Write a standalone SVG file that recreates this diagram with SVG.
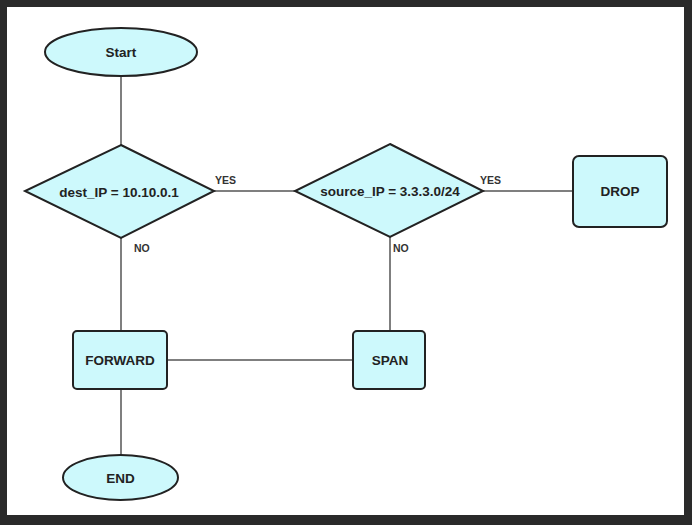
<svg xmlns="http://www.w3.org/2000/svg" width="692" height="525" viewBox="0 0 692 525">
<style>
.n{fill:#cdf9fc;stroke:#222;stroke-width:2}
.t{font-family:"Liberation Sans",Arial,sans-serif;font-weight:bold;font-size:13.5px;fill:#222;text-anchor:middle;dominant-baseline:central}
.l{font-family:"Liberation Sans",Arial,sans-serif;font-weight:bold;font-size:10.5px;fill:#333}
.c{stroke:#555;stroke-width:1.5;fill:none}
</style>
<rect x="0" y="0" width="692" height="525" fill="#2a2a2a"/>
<rect x="7" y="7" width="677" height="508" fill="#fff"/>
<g id="connectors">
<line class="c" x1="121" y1="76" x2="121" y2="145"/>
<line class="c" x1="214" y1="191" x2="295" y2="191"/>
<line class="c" x1="483" y1="191" x2="573" y2="191"/>
<line class="c" x1="121" y1="238" x2="121" y2="331"/>
<line class="c" x1="390" y1="237" x2="390" y2="331"/>
<line class="c" x1="167" y1="360" x2="353" y2="360"/>
<line class="c" x1="121" y1="389" x2="121" y2="455"/>
<text class="l" x="215" y="184">YES</text>
<text class="l" x="480" y="184">YES</text>
<text class="l" x="134" y="252">NO</text>
<text class="l" x="393" y="252">NO</text>
</g>
<g id="start"><ellipse class="n" cx="121" cy="52" rx="76" ry="24"/><text class="t" x="121" y="52">Start</text></g>
<g id="dest"><polygon class="n" points="121,145 214,191 121,238 25,191"/><text class="t" x="119" y="192">dest_IP = 10.10.0.1</text></g>
<g id="source"><polygon class="n" points="390,144 483,191 390,237 295,191"/><text class="t" x="390" y="191">source_IP = 3.3.3.0/24</text></g>
<g id="drop"><rect class="n" x="573" y="156" width="94" height="71" rx="6"/><text class="t" x="620" y="191">DROP</text></g>
<g id="forward"><rect class="n" x="73" y="331" width="94" height="58" rx="4"/><text class="t" x="120" y="360">FORWARD</text></g>
<g id="span"><rect class="n" x="353" y="331" width="72" height="58" rx="4"/><text class="t" x="390" y="360">SPAN</text></g>
<g id="end"><ellipse class="n" cx="120.5" cy="477.5" rx="57.5" ry="22.5"/><text class="t" x="120.5" y="478">END</text></g>
</svg>
